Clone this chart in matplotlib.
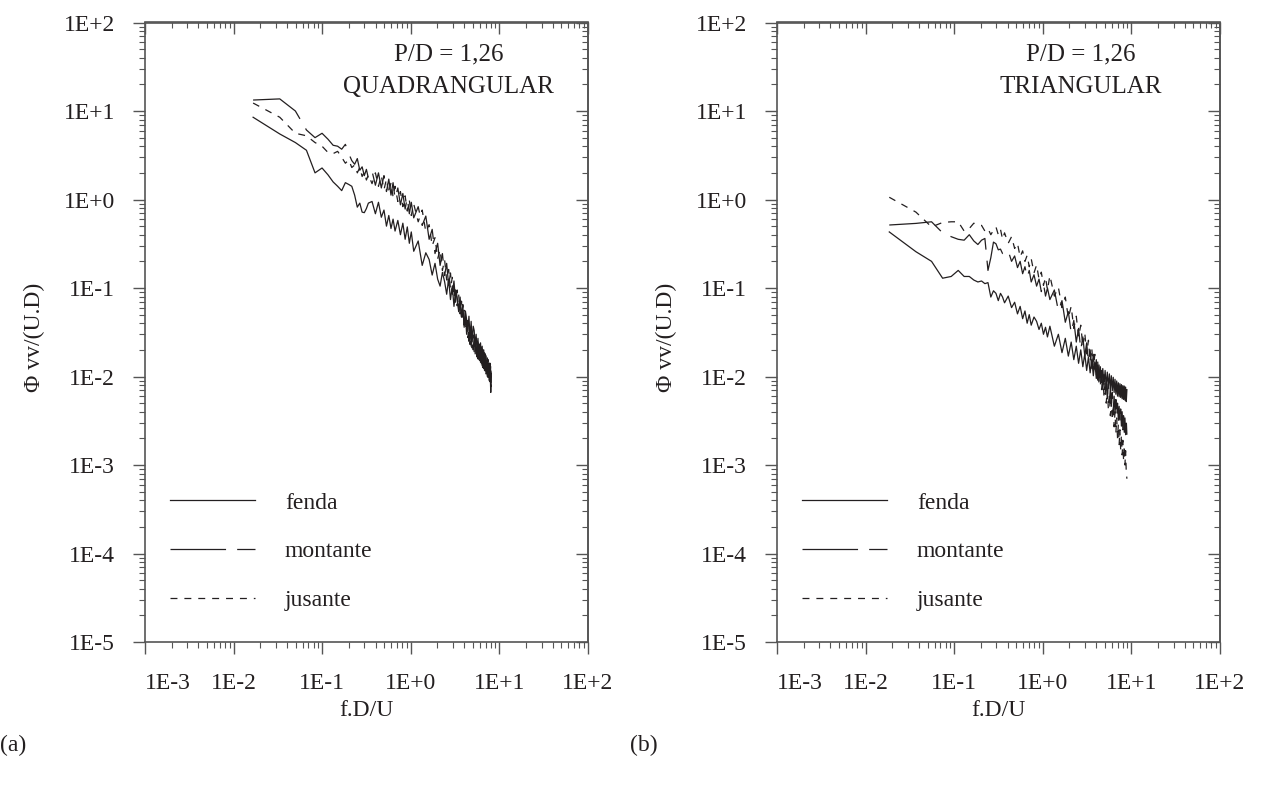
import numpy as np
import matplotlib
matplotlib.use("Agg")
import matplotlib.pyplot as plt
from matplotlib.ticker import FixedLocator, FixedFormatter, LogLocator, NullFormatter
from matplotlib.lines import Line2D

plt.rcParams['font.family'] = ['Liberation Serif', 'DejaVu Serif']
plt.rcParams['lines.scale_dashes'] = False

# ---------------- data ----------------
x_ticks = [1e-3, 1e-2, 1e-1, 1e0, 1e1, 1e2]
x_tick_labels = ['1E-3', '1E-2', '1E-1', '1E+0', '1E+1', '1E+2']
y_ticks = [1e-5, 1e-4, 1e-3, 1e-2, 1e-1, 1e0, 1e1, 1e2]
y_tick_labels = ['1E-5', '1E-4', '1E-3', '1E-2', '1E-1', '1E+0', '1E+1', '1E+2']

series_names = ['fenda', 'montante', 'jusante']

# (a) square arrangement, P/D = 1,26
freq_q = [0.0166, 0.0332, 0.0498, 0.0664, 0.0830, 0.0996, 0.1162, 0.1328, 0.1494, 0.1660,
          0.1826, 0.1992, 0.2158, 0.2324, 0.2490, 0.2656, 0.2822, 0.2988, 0.3154, 0.3320,
          0.3652, 0.3984, 0.4316, 0.4648, 0.4980, 0.5312, 0.5644, 0.5976, 0.6308, 0.6640,
          0.7138, 0.7636, 0.8134, 0.8632, 0.9130, 0.9628, 1.0126,
          1.079, 1.212, 1.345, 1.477, 1.610, 1.743, 1.876, 2.009, 2.141, 2.274,
          2.407, 2.540, 2.673, 2.805, 2.938, 3.071, 3.204, 3.337, 3.469, 3.602,
          3.735, 3.868, 4.001, 4.133, 4.266, 4.399, 4.532, 4.665, 4.797, 4.930,
          5.063, 5.196, 5.329, 5.461, 5.594, 5.727, 5.860, 5.993, 6.125, 6.258,
          6.391, 6.524, 6.657, 6.789, 6.922, 7.055, 7.188, 7.321, 7.453, 7.586,
          7.719, 7.852, 7.985, 8.117]

fenda_q = [8.5, 5.5, 4.4, 3.6, 2.0, 2.27, 1.9, 1.58, 1.41, 1.26,
           1.55, 1.48, 1.41, 1.12, 0.82, 0.91, 0.72, 0.71, 0.79, 0.91,
           0.95, 0.69, 0.93, 0.63, 0.76, 0.50, 0.66, 0.47, 0.60, 0.44,
           0.58, 0.40, 0.54, 0.355, 0.49, 0.32, 0.43,
           0.26, 0.34, 0.18, 0.25, 0.21, 0.14, 0.19, 0.126, 0.105, 0.15,
           0.118, 0.085, 0.126, 0.074, 0.105, 0.062, 0.091, 0.079, 0.054, 0.069,
           0.047, 0.062, 0.036, 0.055, 0.044, 0.032, 0.048, 0.0275, 0.042, 0.0245,
           0.037, 0.033, 0.022, 0.030, 0.0195, 0.027, 0.0174, 0.0158, 0.024, 0.0145,
           0.022, 0.0132, 0.020, 0.0117, 0.018, 0.0166, 0.0107, 0.0151, 0.0098, 0.0141,
           0.0089, 0.0126, 0.0066, 0.0109]

montante_q = [13.3, 13.7, 10.0, 6.1, 5.0, 5.6, 4.8, 4.1, 4.0, 3.7,
              4.2, 3.3, 2.75, 2.5, 2.9, 2.14, 2.34, 1.86, 2.19, 1.74,
              2.09, 1.45, 2.0, 1.35, 1.86, 1.23, 1.70, 1.12, 1.55, 1.02,
              1.35, 0.87, 1.17, 0.78, 1.05, 0.69, 0.93,
              0.62, 0.83, 0.51, 0.65, 0.355, 0.46, 0.245, 0.32, 0.18, 0.245,
              0.138, 0.19, 0.107, 0.148, 0.085, 0.12, 0.069, 0.095, 0.056, 0.079,
              0.047, 0.065, 0.038, 0.052, 0.030, 0.043, 0.025, 0.035, 0.022, 0.032,
              0.020, 0.029, 0.018, 0.027, 0.0166, 0.0245, 0.0155, 0.023, 0.0145, 0.0214,
              0.0132, 0.020, 0.0123, 0.0186, 0.0115, 0.0174, 0.0107, 0.0162, 0.0098, 0.0151,
              0.0091, 0.0141, 0.0085, 0.0135]

jusante_q = [12.3, 8.5, 5.6, 5.25, 4.4, 4.0, 3.4, 3.3, 3.5, 3.0,
             2.57, 2.8, 2.3, 2.45, 2.0, 2.3, 1.82, 2.04, 1.66, 1.9,
             1.51, 2.0, 1.41, 1.86, 1.29, 1.70, 1.17, 1.55, 1.07, 1.41,
             0.95, 1.23, 0.83, 1.10, 0.74, 0.98, 0.66,
             0.89, 0.56, 0.76, 0.43, 0.52, 0.30, 0.37, 0.214, 0.27, 0.158,
             0.209, 0.123, 0.162, 0.098, 0.132, 0.078, 0.105, 0.063, 0.085, 0.051,
             0.071, 0.043, 0.056, 0.034, 0.046, 0.0275, 0.037, 0.023, 0.032, 0.021,
             0.0295, 0.0186, 0.0275, 0.0174, 0.025, 0.0158, 0.0234, 0.0148, 0.0219, 0.0135,
             0.0204, 0.0126, 0.019, 0.0117, 0.0178, 0.0107, 0.0166, 0.010, 0.0155, 0.0093,
             0.0145, 0.0087, 0.0135, 0.0076]

# (b) triangular arrangement, P/D = 1,26
freq_t = [0.0185, 0.0370, 0.0555, 0.0740, 0.0925, 0.1110, 0.1295, 0.1480, 0.1665, 0.1850,
          0.2035, 0.2220, 0.2405, 0.2590, 0.2775, 0.2960, 0.3145, 0.3330, 0.3515, 0.3700,
          0.4070, 0.4440, 0.4810, 0.5180, 0.5550, 0.5920, 0.6290, 0.6660, 0.7030, 0.7400,
          0.7955, 0.8510, 0.9065, 0.9620, 1.0175, 1.0730, 1.1285,
          1.2025, 1.3505, 1.4985, 1.6465, 1.7945, 1.9425, 2.0905, 2.2385, 2.3865, 2.5345,
          2.6825, 2.8305, 2.9785, 3.1265, 3.2745, 3.4225, 3.5705, 3.7185, 3.8665, 4.0145,
          4.1625, 4.3105, 4.4585, 4.6065, 4.7545, 4.9025, 5.0505, 5.1985, 5.3465, 5.4945,
          5.6425, 5.7905, 5.9385, 6.0865, 6.2345, 6.3825, 6.5305, 6.6785, 6.8265, 6.9745,
          7.1225, 7.2705, 7.4185, 7.5665, 7.7145, 7.8625, 8.0105, 8.1585, 8.3065, 8.4545,
          8.6025, 8.7505, 8.8985]

fenda_t = [0.43, 0.257, 0.20, 0.129, 0.135, 0.158, 0.135, 0.135, 0.123, 0.117,
           0.12, 0.112, 0.115, 0.079, 0.093, 0.087, 0.072, 0.087, 0.079, 0.068,
           0.081, 0.060, 0.069, 0.051, 0.062, 0.045, 0.055, 0.040, 0.050, 0.038,
           0.047, 0.042, 0.034, 0.040, 0.030, 0.036, 0.028,
           0.037, 0.022, 0.030, 0.0186, 0.027, 0.017, 0.0245, 0.0155, 0.022, 0.0141,
           0.020, 0.0129, 0.018, 0.0117, 0.0166, 0.011, 0.0155, 0.0102, 0.0145, 0.0095,
           0.0135, 0.0089, 0.0129, 0.0085, 0.0123, 0.0081, 0.0117, 0.0078, 0.0112, 0.0076,
           0.0107, 0.0072, 0.0102, 0.0069, 0.0098, 0.0066, 0.0093, 0.0063, 0.0089, 0.0060,
           0.0085, 0.0059, 0.0083, 0.0058, 0.0081, 0.0056, 0.0079, 0.0055, 0.0078, 0.0054,
           0.0076, 0.0052, 0.0071]

montante_t = [0.515, 0.537, 0.56, 0.42, 0.38, 0.355, 0.347, 0.40, 0.34, 0.31,
              0.347, 0.363, 0.158, 0.22, 0.33, 0.316, 0.27, 0.275, 0.245, 0.24,
              0.263, 0.20, 0.23, 0.17, 0.20, 0.145, 0.174, 0.132, 0.158, 0.117,
              0.141, 0.105, 0.126, 0.091, 0.112, 0.081, 0.10,
              0.074, 0.095, 0.055, 0.072, 0.041, 0.054, 0.031, 0.043, 0.0245, 0.035,
              0.020, 0.028, 0.017, 0.024, 0.0145, 0.020, 0.0123, 0.0178, 0.0105, 0.0155,
              0.0091, 0.0135, 0.0079, 0.0117, 0.0071, 0.0105, 0.0063, 0.0093, 0.0056, 0.0083,
              0.0051, 0.0074, 0.0046, 0.0066, 0.0042, 0.0060, 0.0038, 0.0055, 0.0035, 0.0050,
              0.0032, 0.0046, 0.0030, 0.0043, 0.00275, 0.0040, 0.0025, 0.0036, 0.00234, 0.0034,
              0.0022, 0.0032, 0.0022]

jusante_t = [1.06, 0.72, 0.49, 0.55, 0.56, 0.56, 0.44, 0.47, 0.54, 0.51,
             0.51, 0.44, 0.47, 0.40, 0.45, 0.49, 0.40, 0.46, 0.355, 0.42,
             0.32, 0.38, 0.28, 0.32, 0.224, 0.263, 0.20, 0.234, 0.174, 0.214,
             0.148, 0.182, 0.126, 0.151, 0.107, 0.132, 0.095,
             0.138, 0.081, 0.102, 0.060, 0.079, 0.046, 0.062, 0.035, 0.048, 0.028,
             0.038, 0.022, 0.031, 0.018, 0.0257, 0.0148, 0.021, 0.0123, 0.0178, 0.0102,
             0.0148, 0.0083, 0.012, 0.0071, 0.0102, 0.0060, 0.0087, 0.0050, 0.0072, 0.0043,
             0.0063, 0.0036, 0.0054, 0.0032, 0.0047, 0.0027, 0.0040, 0.0023, 0.0034, 0.0020,
             0.0029, 0.0017, 0.0025, 0.00148, 0.0022, 0.0013, 0.0019, 0.00112, 0.00166, 0.0010,
             0.00145, 0.00083, 0.0007]

panels = [
    dict(freq=freq_q, curves=[fenda_q, montante_q, jusante_q],
         title=['P/D = 1,26', 'QUADRANGULAR'], tag='(a)'),
    dict(freq=freq_t, curves=[fenda_t, montante_t, jusante_t],
         title=['P/D = 1,26', 'TRIANGULAR'], tag='(b)'),
]

# ---------------- style ----------------
INK = '#231f20'
AXC = '#555555'
LW = 0.9
line_styles = ['-', (0, (40, 8)), (0, (5, 5))]
FS = 17

W, H = 1263, 785
fig = plt.figure(figsize=(W / 100, H / 100), dpi=100)


def rect(x0, x1, y0, y1):
    return [x0 / W, 1 - y1 / H, (x1 - x0) / W, (y1 - y0) / H]


axes = [fig.add_axes(rect(145, 588, 22.5, 642)),
        fig.add_axes(rect(777, 1220, 22.5, 642))]

for ax, p in zip(axes, panels):
    for vals, ls in zip(p['curves'], line_styles):
        ax.plot(p['freq'], vals, color=INK, lw=LW, ls=ls)

    ax.set_xscale('log')
    ax.set_yscale('log')
    ax.set_xlim(x_ticks[0], x_ticks[-1])
    ax.set_ylim(y_ticks[0], y_ticks[-1])
    ax.xaxis.set_major_locator(FixedLocator(x_ticks))
    ax.xaxis.set_major_formatter(FixedFormatter(x_tick_labels))
    ax.yaxis.set_major_locator(FixedLocator(y_ticks))
    ax.yaxis.set_major_formatter(FixedFormatter(y_tick_labels))
    ax.xaxis.set_minor_locator(LogLocator(base=10, subs=np.arange(2, 10), numticks=100))
    ax.yaxis.set_minor_locator(LogLocator(base=10, subs=np.arange(2, 10), numticks=100))
    ax.xaxis.set_minor_formatter(NullFormatter())
    ax.yaxis.set_minor_formatter(NullFormatter())

    ax.tick_params(which='major', direction='out', length=8.4, width=1.0,
                   color=AXC, labelcolor=INK, labelsize=FS)
    ax.tick_params(which='minor', direction='out', length=4.6, width=0.8, color=AXC)
    ax.tick_params(axis='x', which='major', pad=14)
    ax.tick_params(axis='y', which='major', pad=13)
    ax.tick_params(top=False, right=False)
    for s in ax.spines.values():
        s.set_color(AXC)
        s.set_linewidth(1.2)

    # top and right frames carry inward ticks without labels
    sx = ax.secondary_xaxis('top')
    sy = ax.secondary_yaxis('right')
    sx.xaxis.set_major_locator(FixedLocator(x_ticks))
    sx.xaxis.set_minor_locator(LogLocator(base=10, subs=np.arange(2, 10), numticks=100))
    sy.yaxis.set_major_locator(FixedLocator(y_ticks))
    sy.yaxis.set_minor_locator(LogLocator(base=10, subs=np.arange(2, 10), numticks=100))
    for sa, axis in ((sx, sx.xaxis), (sy, sy.yaxis)):
        axis.set_major_formatter(NullFormatter())
        axis.set_minor_formatter(NullFormatter())
        sa.tick_params(which='major', direction='in', length=8.4, width=1.0, color=AXC)
        sa.tick_params(which='minor', direction='in', length=4.6, width=0.8, color=AXC)
        for s in sa.spines.values():
            s.set_color(AXC)
            s.set_linewidth(1.2)

    # the first decade label starts at the frame edge
    xl = ax.get_xticklabels()
    xl[0].set_horizontalalignment('left')

    ax.set_xlabel('f.D/U', fontsize=FS, color=INK)
    ax.xaxis.set_label_coords(0.5, -0.094)
    ax.set_ylabel('\u03a6 vv/(U.D)', fontsize=FS, color=INK)
    ax.yaxis.set_label_coords(-0.226, 0.492)

    ax.text(0.686, 0.949, p['title'][0], transform=ax.transAxes,
            ha='center', va='center', fontsize=18, color=INK)
    ax.text(0.686, 0.896, p['title'][1], transform=ax.transAxes,
            ha='center', va='center', fontsize=18, color=INK)

    handles = [Line2D([], [], color=INK, lw=LW, ls=ls) for ls in line_styles]
    leg = ax.legend(handles, series_names, loc='upper left', bbox_to_anchor=(0.056, 0.242),
                    frameon=False, handlelength=3.6, handletextpad=1.27,
                    labelspacing=1.15, borderpad=0, borderaxespad=0, fontsize=FS)
    for t in leg.get_texts():
        t.set_color(INK)

fig.text(0 / W, 1 - 745 / H, panels[0]['tag'], fontsize=FS, color=INK, ha='left', va='center')
fig.text(630 / W, 1 - 745 / H, panels[1]['tag'], fontsize=FS, color=INK, ha='left', va='center')

fig.savefig('out.png', dpi=100)
